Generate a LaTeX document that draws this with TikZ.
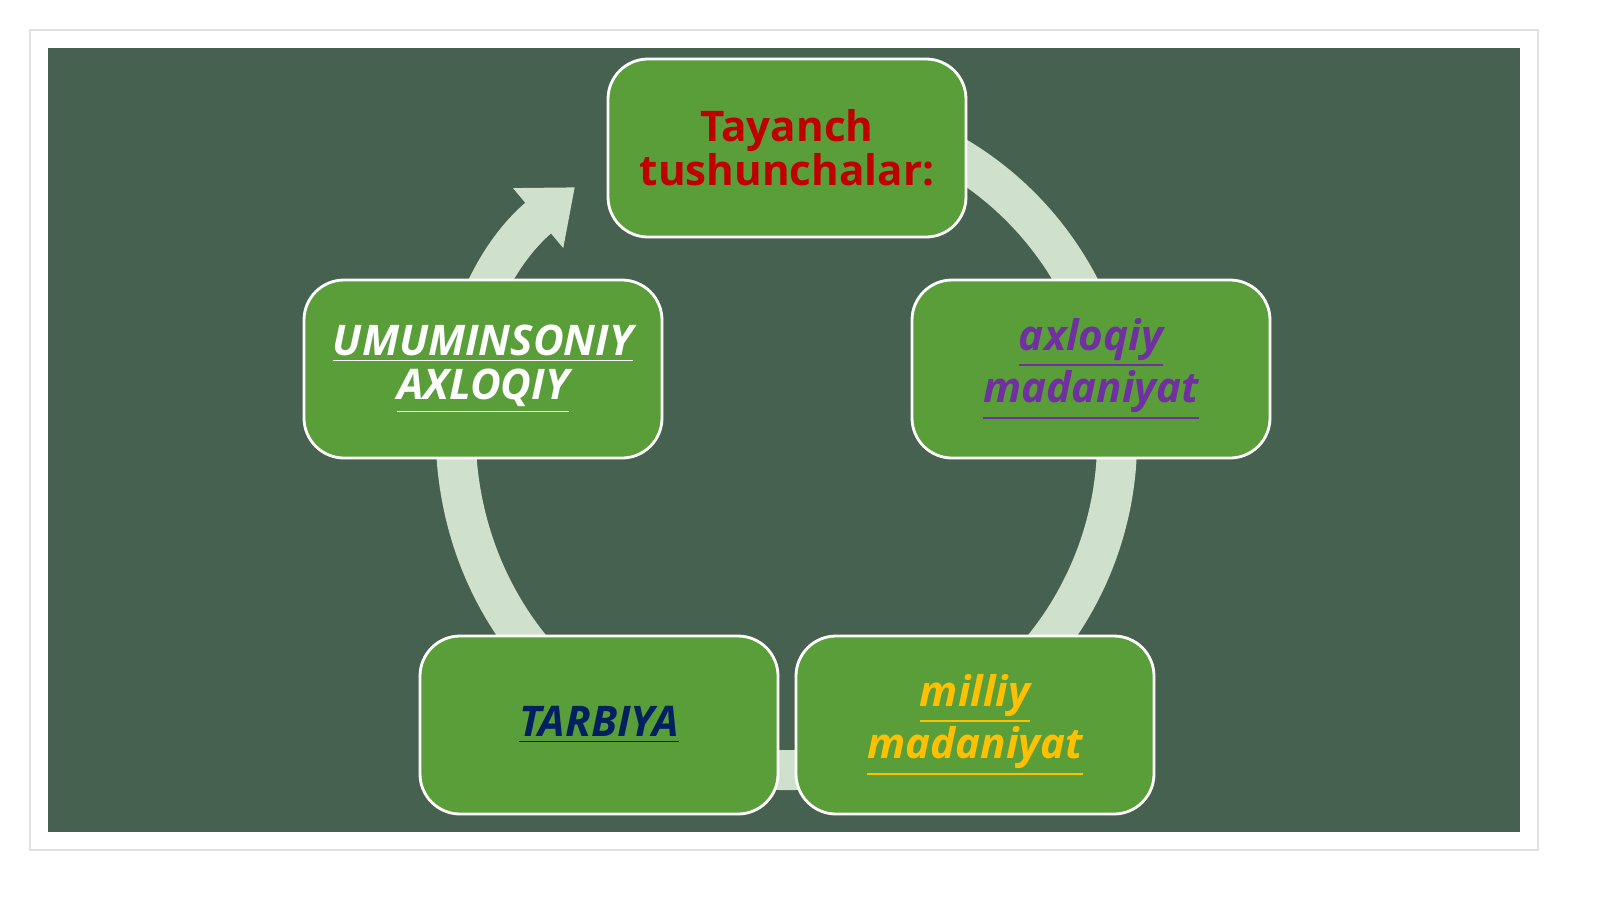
\documentclass[tikz,border=0pt]{standalone}
\usepackage{fontspec}
\setmainfont{Open Sans}
\usetikzlibrary{arrows.meta}
\definecolor{board}{HTML}{46614F}
\definecolor{boxfill}{HTML}{5A9E3A}
\definecolor{ring}{HTML}{CFE0CC}
\definecolor{tred}{HTML}{C00000}
\definecolor{tpurple}{HTML}{7030A0}
\definecolor{tgold}{HTML}{FFC000}
\definecolor{tnavy}{HTML}{002060}
\tikzset{
  card/.style={draw=white, line width=0.8pt, fill=boxfill, rounded corners=4mm,
    minimum width=35.8mm, minimum height=17.8mm, align=center,
    font=\fontsize{12pt}{12.5pt}\selectfont\bfseries},
  cardtext/.style={font=\fontsize{12pt}{12.5pt}\selectfont\bfseries\itshape}
}
\begin{document}
\begin{tikzpicture}[x=0.1mm,y=-0.1mm]
\useasboundingbox (0,0) rectangle (1600,899);
\clip (0,0) rectangle (1600,899);
\fill[white] (0,0) rectangle (1600,899);
\draw[black!12, line width=0.6pt] (30,30) rectangle (1538,850);
\fill[board] (48,48) rectangle (1520,832);
% ring with arrow
\draw[ring, line width=4mm, -{Triangle[width=7.5mm,length=4.8mm]}]
  (787,440) ++(-115:330) arc[start angle=-115, end angle=230, radius=330];
% cards
\node[card] (top) at (787,148) {\textcolor{tred}{Tayanch}\\\textcolor{tred}{tushunchalar:}};
\node[card] (right) at (1091,369) {};
\node[card] (bright) at (975,725) {};
\node[card] (bleft) at (599,725) {};
\node[card] (left) at (483,369) {};
\node[cardtext, text=tpurple, align=center] at (right) {\underline{axloqiy}\\\underline{madaniyat}};
\node[cardtext, text=tgold, align=center] at (bright) {\underline{milliy}\\\underline{madaniyat}};
\node[cardtext, text=tnavy, align=center] at (bleft) {\underline{TARBIYA}};
\node[cardtext, text=white, align=center] at (left) {\underline{UMUMINSONIY}\\\underline{AXLOQIY}};
\end{tikzpicture}
\end{document}
